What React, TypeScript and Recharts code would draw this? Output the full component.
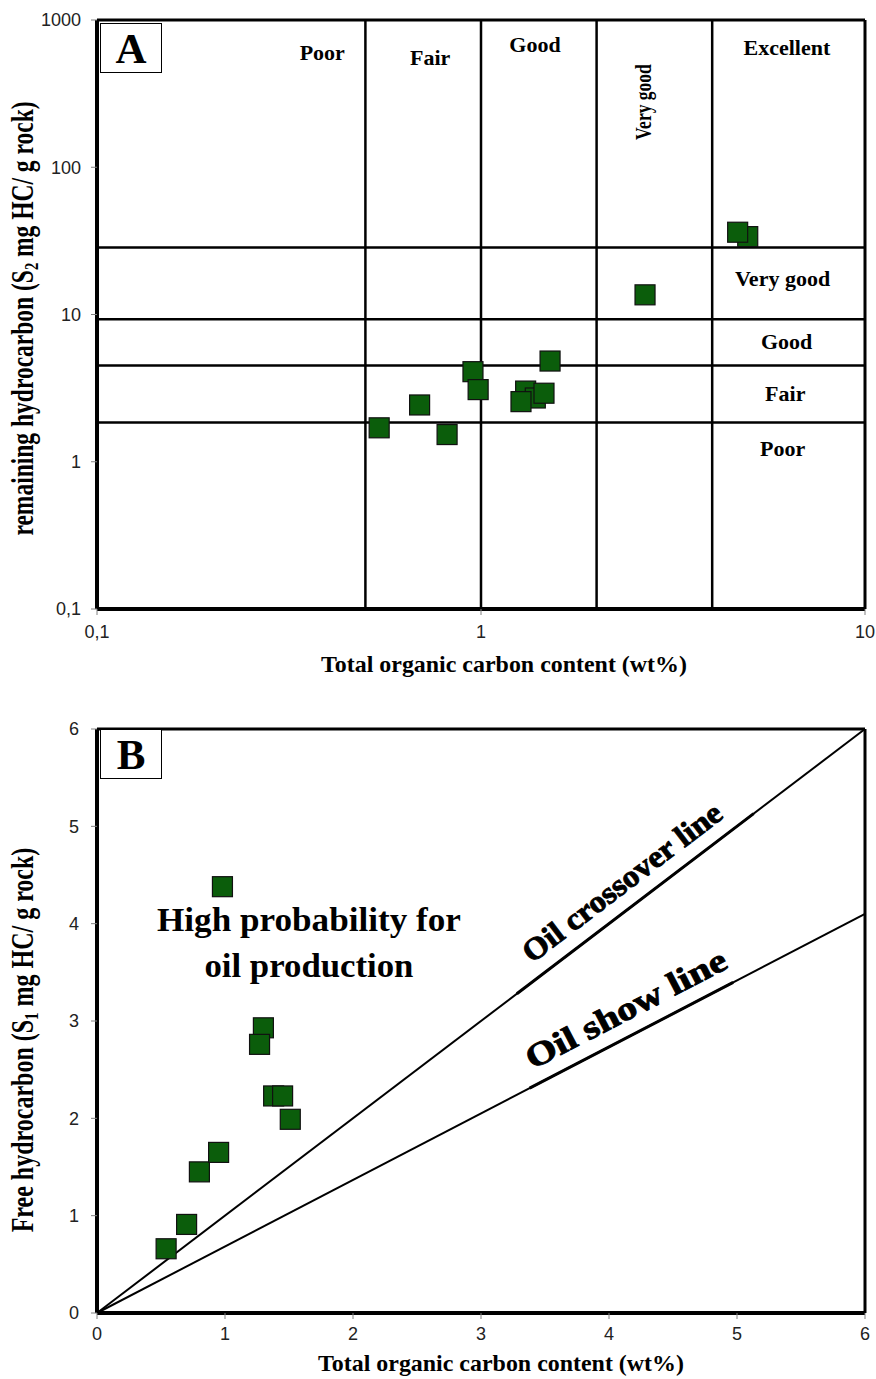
import React from "react";
import { ScatterChart, Scatter, XAxis, YAxis, ReferenceLine, ReferenceDot } from "recharts";

// TOC (wt%) and S2 (mg HC/g rock), panel A
const tocA = [0.543, 0.692, 0.816, 0.953, 0.983, 1.307, 1.385, 1.459, 1.271, 1.513, 2.674, 4.95, 4.66];
const s2A = [1.7, 2.43, 1.53, 4.09, 3.09, 3.02, 2.71, 2.92, 2.56, 4.83, 13.6, 33.8, 36.2];

// TOC (wt%) and S1 (mg HC/g rock), panel B
const tocB = [0.54, 0.7, 0.8, 0.95, 0.98, 1.3, 1.27, 1.38, 1.45, 1.51];
const s1B = [0.66, 0.91, 1.45, 1.65, 4.38, 2.93, 2.76, 2.23, 2.23, 1.99];

// classification limits
const tocLimits = [0.5, 1, 2, 4];
const s2Limits = [1.85, 4.5, 9.3, 28.5];

// oil lines through the origin (end points at TOC = 6)
const crossoverEnd = { x: 6, y: 6 };
const showEnd = { x: 6, y: 4.1 };

const ticksAx = [0.1, 1, 10];
const ticksAy = [0.1, 1, 10, 100, 1000];
const ticksB = [0, 1, 2, 3, 4, 5, 6];

const SERIF = '"Liberation Serif", "Times New Roman", serif';
const SANS = '"Liberation Sans", Arial, sans-serif';
const GREEN = "#0b5d0b";

const pointsA = tocA.map((x, i) => ({ x, y: s2A[i] }));
const pointsB = tocB.map((x, i) => ({ x, y: s1B[i] }));

// label anchors (data coordinates)
const tocClassLabels = [
  { x: 0.386, y: 606, text: "Poor" },
  { x: 0.737, y: 561, text: "Fair" },
  { x: 1.382, y: 687, text: "Good" },
  { x: 6.26, y: 655, text: "Excellent" },
];
const s2ClassLabels = [
  { x: 6.1, y: 17.7, text: "Very good" },
  { x: 6.25, y: 6.61, text: "Good" },
  { x: 6.2, y: 2.907, text: "Fair" },
  { x: 6.1, y: 1.23, text: "Poor" },
];

const tickStyle = { fontFamily: SANS, fontSize: 18, fill: "#222" };
const comma = (v: number) => String(v).replace(".", ",");

const Square = (p: any) => (
  <rect x={p.cx - 10} y={p.cy - 10} width={20} height={20} fill={GREEN} stroke="#111" strokeWidth={1.2} />
);

const xTitle = (dx: number, dy: number, len: number) => (props: any) => {
  const vb = props.viewBox || { x: 97, y: 0, width: 768, height: 0 };
  return (
    <text
      x={vb.x + vb.width / 2 + dx}
      y={vb.y + dy}
      textAnchor="middle"
      fontFamily={SERIF}
      fontWeight={700}
      fontSize={23}
      textLength={len}
      lengthAdjust="spacingAndGlyphs"
      fill="#000"
    >
      Total organic carbon content (wt%)
    </text>
  );
};

// vertical titles are a little wider across than along
const yTitle = (pre: string, sub: string, post: string, dy: number, size: number) => (props: any) => {
  const vb = props.viewBox || { x: 0, y: 0, width: 97, height: 0 };
  const x = 33;
  const y = vb.y + vb.height / 2 + dy;
  return (
    <text
      x={0}
      y={0}
      transform={`translate(${x}, ${y}) rotate(-90) scale(1, 1.3)`}
      textAnchor="middle"
      fontFamily={SERIF}
      fontWeight={700}
      fontSize={size}
      fill="#000"
    >
      <tspan>{pre}</tspan>
      <tspan fontSize={size * 0.62} dy={4}>{sub}</tspan>
      <tspan dy={-4}>{post}</tspan>
    </text>
  );
};

const classText = (text: string, size = 22, angle = 0, stretch = 1) => (p: any) => (
  <text
    x={0}
    y={0}
    dy="0.35em"
    textAnchor="middle"
    transform={`translate(${p.cx}, ${p.cy}) rotate(${angle}) scale(1, ${stretch})`}
    fontFamily={SERIF}
    fontWeight={700}
    fontSize={size}
    fill="#000"
  >
    {text}
  </text>
);

const lineText = (text: string, angle: number, size: number, len: number) => (p: any) => (
  <text
    x={p.cx}
    y={p.cy}
    dy="0.35em"
    textAnchor="middle"
    transform={`rotate(${angle}, ${p.cx}, ${p.cy})`}
    fontFamily={SERIF}
    fontWeight={700}
    fontSize={size}
    textLength={len}
    lengthAdjust="spacingAndGlyphs"
    fill="#000"
    stroke="#000"
    strokeWidth={0.9}
  >
    {text}
  </text>
);

const probabilityText = (p: any) => (
  <text x={p.cx} y={p.cy} textAnchor="middle" fontFamily={SERIF} fontWeight={700} fontSize={34} fill="#000">
    <tspan x={p.cx} textLength={304} lengthAdjust="spacingAndGlyphs">High probability for</tspan>
    <tspan x={p.cx} dy={46} textLength={209} lengthAdjust="spacingAndGlyphs">oil production</tspan>
  </text>
);

const panelBox: React.CSSProperties = {
  position: "absolute",
  left: 100,
  width: 62,
  height: 50,
  boxSizing: "border-box",
  border: "1.5px solid #000",
  background: "#fff",
  display: "flex",
  alignItems: "center",
  justifyContent: "center",
  fontFamily: SERIF,
  fontWeight: 700,
  fontSize: 43,
  lineHeight: 1,
};

export default function App() {
  return (
    <div style={{ position: "absolute", left: 0, top: 0, width: 876, height: 1379, background: "#fff" }}>
      <div style={{ position: "absolute", left: 0, top: 0 }}>
        <ScatterChart width={876} height={680} margin={{ top: 20, right: 11, bottom: 0, left: 0 }}>
          <XAxis
            type="number"
            dataKey="x"
            scale="log"
            domain={[0.1, 10]}
            ticks={ticksAx}
            allowDataOverflow
            height={71}
            tickFormatter={comma}
            tick={tickStyle}
            tickSize={6}
            tickMargin={10}
            axisLine={{ stroke: "#000", strokeWidth: 4 }}
            tickLine={{ stroke: "#808080" }}
            label={xTitle(23, 63, 366)}
          />
          <YAxis
            type="number"
            dataKey="y"
            scale="log"
            domain={[0.1, 1000]}
            ticks={ticksAy}
            allowDataOverflow
            width={97}
            tickFormatter={comma}
            tick={tickStyle}
            tickSize={6}
            tickMargin={10}
            axisLine={{ stroke: "#000", strokeWidth: 4 }}
            tickLine={{ stroke: "#808080" }}
            label={yTitle("remaining hydrocarbon (S", "2", " mg HC/ g rock)", 4, 23.5)}
          />
          <ReferenceLine y={1000} stroke="#000" strokeWidth={3} ifOverflow="visible" />
          <ReferenceLine x={10} stroke="#000" strokeWidth={3} ifOverflow="visible" />
          {tocLimits.map((v) => (
            <ReferenceLine key={`t${v}`} x={v} stroke="#000" strokeWidth={2.5} />
          ))}
          {s2Limits.map((v) => (
            <ReferenceLine key={`s${v}`} y={v} stroke="#000" strokeWidth={2.5} />
          ))}
          {tocClassLabels.map((l) => (
            <ReferenceDot key={l.text} x={l.x} y={l.y} r={0} ifOverflow="visible" shape={classText(l.text)} />
          ))}
          <ReferenceDot x={2.64} y={277} r={0} ifOverflow="visible" shape={classText("Very good", 17.5, -90, 1.3)} />
          {s2ClassLabels.map((l) => (
            <ReferenceDot key={`r${l.text}`} x={l.x} y={l.y} r={0} ifOverflow="visible" shape={classText(l.text)} />
          ))}
          <Scatter data={pointsA} shape={Square} isAnimationActive={false} />
        </ScatterChart>
        <div style={{ ...panelBox, top: 23 }}>A</div>
      </div>

      <div style={{ position: "absolute", left: 0, top: 700 }}>
        <ScatterChart width={876} height={679} margin={{ top: 29, right: 11, bottom: 0, left: 0 }}>
          <XAxis
            type="number"
            dataKey="x"
            domain={[0, 6]}
            ticks={ticksB}
            allowDataOverflow
            height={66}
            tick={tickStyle}
            tickSize={6}
            tickMargin={8}
            axisLine={{ stroke: "#000", strokeWidth: 4 }}
            tickLine={{ stroke: "#808080" }}
            label={xTitle(20, 58, 366)}
          />
          <YAxis
            type="number"
            dataKey="y"
            domain={[0, 6]}
            ticks={ticksB}
            allowDataOverflow
            width={97}
            tick={tickStyle}
            tickSize={6}
            tickMargin={12}
            axisLine={{ stroke: "#000", strokeWidth: 4 }}
            tickLine={{ stroke: "#808080" }}
            label={yTitle("Free hydrocarbon (S", "1", " mg HC/ g rock)", 19, 24)}
          />
          <ReferenceLine y={6} stroke="#000" strokeWidth={3} ifOverflow="visible" />
          <ReferenceLine x={6} stroke="#000" strokeWidth={3} ifOverflow="visible" />
          <ReferenceLine segment={[{ x: 0, y: 0 }, crossoverEnd]} stroke="#000" strokeWidth={2} ifOverflow="visible" />
          <ReferenceLine segment={[{ x: 0, y: 0 }, showEnd]} stroke="#000" strokeWidth={2} ifOverflow="visible" />
          <ReferenceLine
            segment={[{ x: 3.28, y: 3.28 }, { x: 5.13, y: 5.13 }]}
            stroke="#000"
            strokeWidth={3}
            ifOverflow="visible"
          />
          <ReferenceLine
            segment={[{ x: 3.38, y: (3.38 * showEnd.y) / showEnd.x }, { x: 4.97, y: (4.97 * showEnd.y) / showEnd.x }]}
            stroke="#000"
            strokeWidth={3}
            ifOverflow="visible"
          />
          <ReferenceDot x={4.1} y={4.43} r={0} ifOverflow="visible" shape={lineText("Oil crossover line", -37.3, 31, 242)} />
          <ReferenceDot x={4.13} y={3.13} r={0} ifOverflow="visible" shape={lineText("Oil show line", -27.5, 33, 222)} />
          <ReferenceDot x={1.656} y={3.92} r={0} ifOverflow="visible" shape={probabilityText} />
          <Scatter data={pointsB} shape={Square} isAnimationActive={false} />
        </ScatterChart>
        <div style={{ ...panelBox, top: 29 }}>B</div>
      </div>
    </div>
  );
}
